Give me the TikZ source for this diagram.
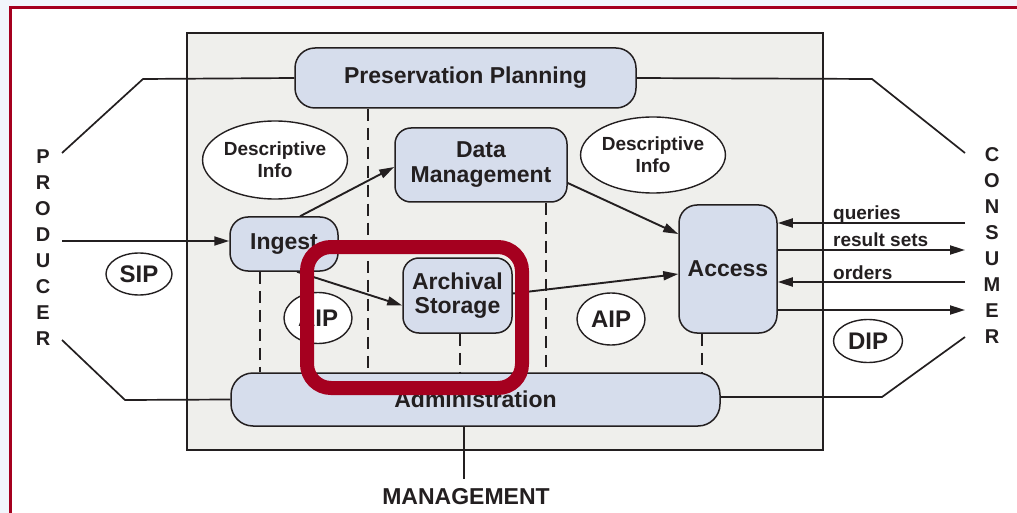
\documentclass[tikz,border=0pt]{standalone}
\usepackage{fontspec}
\setmainfont{Liberation Sans}
\usetikzlibrary{arrows.meta,shapes.geometric}
\definecolor{bgblue}{HTML}{F1F6FC}
\definecolor{framered}{HTML}{A5001F}
\definecolor{panel}{HTML}{EFEFEC}
\definecolor{fnode}{HTML}{D6DDEC}
\definecolor{ink}{HTML}{231F20}
\begin{document}
\begin{tikzpicture}[x=1pt,y=-1pt,
  fn/.style={draw=ink, line width=1.5pt, fill=fnode, rounded corners=#1, inner sep=0pt,
             font=\bfseries\fontsize{23}{25}\selectfont, text=ink, align=center},
  fn/.default=16pt,
  ell/.style={ellipse, draw=ink, line width=1.4pt, fill=white, inner sep=0pt, text=ink, align=center},
  arr/.style={draw=ink, line width=1.9pt, -{Triangle[length=15pt,width=9pt]}},
  ln/.style={draw=ink, line width=1.7pt},
  dsh/.style={draw=ink, line width=1.9pt, dash pattern=on 12pt off 7pt},
  lbl/.style={font=\bfseries\fontsize{19}{20}\selectfont, text=ink, inner sep=0pt},
  vert/.style={font=\bfseries\fontsize{20}{26}\selectfont, text=ink, align=center, inner sep=0pt}
]
\useasboundingbox (0,0) rectangle (1017,513);
% background and frame
\fill[bgblue] (0,0) rectangle (1017,513);
\fill[white] (10,8) rectangle (1017,513);
\draw[framered, line width=3pt] (10,513) -- (10,8) -- (1017,8);
% main panel
\draw[ink, line width=2pt, fill=panel] (187,33) rectangle (823,450);

% function nodes
\node[fn=20pt, minimum width=341pt, minimum height=60pt] (pp) at (465.5,78) {Preservation Planning};
\node[fn, minimum width=172pt, minimum height=74pt] (dm) at (481,165) {Data\\Management};
\node[fn=18pt, minimum width=108pt, minimum height=54pt] (ingest) at (284,244) {Ingest};
\node[fn, minimum width=109pt, minimum height=75pt, font=\bfseries\fontsize{23}{24}\selectfont] (as) at (457.5,295.5) {Archival\\Storage};
\node[fn=18pt, minimum width=98pt, minimum height=128pt] (access) at (728,269) {Access};
\node[fn=22pt, minimum width=489pt, minimum height=53pt] (admin) at (475.5,399.5) {Administration};

% ellipses
\node[ell, minimum width=132pt, minimum height=78pt, font=\bfseries\fontsize{19}{22}\selectfont] (di1) at (275,160) {Descriptive\\Info};
\node[ell, minimum width=137pt, minimum height=76pt, font=\bfseries\fontsize{19}{22}\selectfont] (di2) at (653,155) {Descriptive\\Info};
\node[ell, minimum width=66pt, minimum height=42pt, font=\bfseries\fontsize{24}{24}\selectfont] (sip) at (139,274) {SIP};
\node[ell, minimum width=68pt, minimum height=51pt, font=\bfseries\fontsize{24}{24}\selectfont] (aip1) at (318,318) {AIP};
\node[ell, minimum width=68pt, minimum height=52pt, font=\bfseries\fontsize{24}{24}\selectfont] (aip2) at (611,319) {AIP};
\node[ell, minimum width=69pt, minimum height=43pt, font=\bfseries\fontsize{24}{24}\selectfont] (dip) at (868,341) {DIP};

% producer / consumer / management labels
\node[vert] (producer) at (43,248) {P\\R\\O\\D\\U\\C\\E\\R};
\node[vert] (consumer) at (992,246) {C\\O\\N\\S\\U\\M\\E\\R};
\node[font=\bfseries\fontsize{23}{24}\selectfont, text=ink, inner sep=0pt] (mgmt) at (466,497) {MANAGEMENT};

% free ends
\coordinate (pl1) at (143,79);
\coordinate (pl2) at (62,153);
\coordinate (pr1) at (872,79);
\coordinate (pr2) at (965,153);
\coordinate (al1) at (125,400);
\coordinate (al2) at (62,340);
\coordinate (ar1) at (882,397);
\coordinate (ar2) at (965,337);
\coordinate (pin) at (62,241);
\coordinate (cq) at (965,223);
\coordinate (cr) at (965,250);
\coordinate (co) at (965,282);
\coordinate (cd) at (965,310);
\coordinate (mg) at (464,479);

% outer connectors
\draw[ln] (pp.west) -- (pl1) -- (pl2);
\draw[ln] (pp.east) -- (pr1) -- (pr2);
\draw[ln] (admin.west) -- (al1) -- (al2);
\draw[ln] ([yshift=2.5pt]admin.east) -- (ar1) -- (ar2);
\draw[ln] ([xshift=-11.5pt]admin.south) -- (mg);
\draw[arr] (pin) -- ([yshift=3pt]ingest.west);

% consumer flows
\draw[arr] (cq) -- ([yshift=46pt]access.east);
\draw[arr] ([yshift=19pt]access.east) -- (cr);
\draw[arr] (co) -- ([yshift=-13pt]access.east);
\draw[arr] ([yshift=-41pt]access.east) -- (cd);
\node[lbl, anchor=base west] (lq) at (833,219) {queries};
\node[lbl, anchor=base west] (lr) at (833,247) {result sets};
\node[lbl, anchor=base west] (lo) at (833,279) {orders};

% internal flows
\draw[arr] (ingest.60) -- ([yshift=-2pt]dm.west);
\draw[arr] ([xshift=13pt]ingest.south) -- ([yshift=-10pt]as.west);
\draw[arr] ([yshift=2pt]as.east) -- ([yshift=-5pt]access.west);
\draw[arr] ([yshift=-18pt]dm.east) -- ([yshift=35pt]access.west);

% dashed links to administration
\draw[dsh] (pp.south -| 368,0) -- (admin.north -| 368,0);
\draw[dsh] (dm.south -| 546,0) -- (admin.north -| 546,0);
\draw[dsh] (ingest.south -| 260,0) -- (admin.north -| 260,0);
\draw[dsh] (as.south -| 460,0) -- (admin.north -| 460,0);
\draw[dsh] (access.south -| 702,0) -- (admin.north -| 702,0);

% highlight
\draw[framered, line width=14pt, rounded corners=24pt] (307,247) rectangle (522,388);
\end{tikzpicture}
\end{document}
